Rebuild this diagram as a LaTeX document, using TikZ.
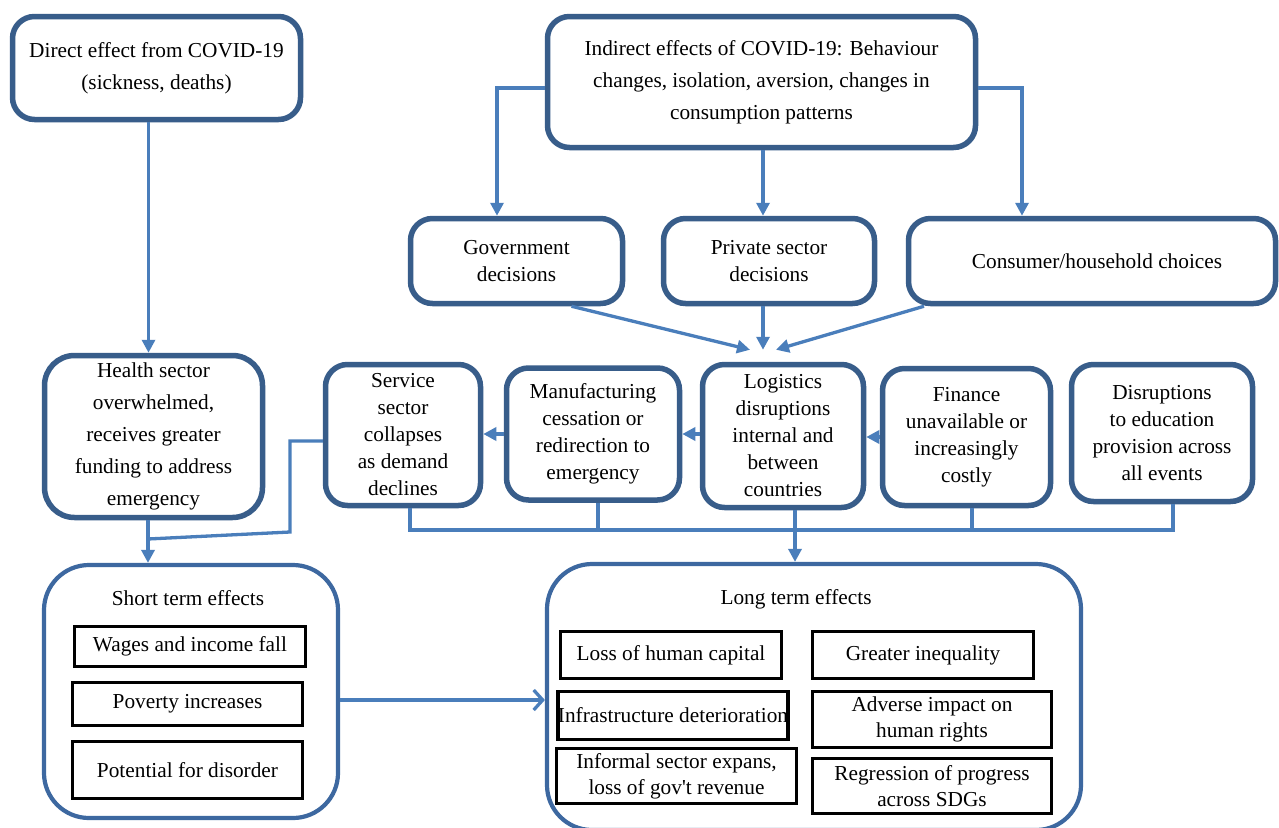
\documentclass[tikz,border=0pt]{standalone}
\usepackage{fontspec}
\setmainfont{Liberation Serif}
\newfontfamily\straightfont{Liberation Serif}[Ligatures=TeXOff]
\usetikzlibrary{arrows.meta,calc}
\definecolor{boxblue}{HTML}{385D8A}
\definecolor{outblue}{HTML}{3D68A0}
\definecolor{linkblue}{HTML}{4A7EBB}
\tikzset{
  bluebox/.style={draw=boxblue, line width=5.5pt, rounded corners=22pt, fill=white, align=center, inner sep=0pt, font=\fontsize{21.3}{27}\selectfont},
  wide/.style={font=\fontsize{21.3}{32}\selectfont},
  outbox/.style={draw=outblue, line width=4.2pt, rounded corners=45pt, inner sep=0pt},
  itembox/.style={draw=black, line width=3.5pt, align=center, inner sep=0pt, fill=white, font=\fontsize{21.3}{26}\selectfont},
  titletext/.style={inner sep=0pt, font=\fontsize{21.3}{26}\selectfont},
  conn/.style={draw=linkblue, line width=3.3pt},
  arr/.style={conn, -{Triangle[length=13pt,width=13pt]}},
  openarr/.style={conn, -{Straight Barb[length=9pt,width=20pt,line width=3.3pt]}}
}
\begin{document}
\begin{tikzpicture}[x=1pt,y=-1pt]
\useasboundingbox[fill=white] (0,0) rectangle (1279,827);
% top boxes
\node[bluebox, wide, minimum width=288pt, minimum height=103pt] (direct) at (156.5,68) {Direct effect from COVID-19\\(sickness, deaths)};
\node[bluebox, wide, minimum width=428pt, minimum height=131pt] (indirect) at (761.5,82) {Indirect effects of COVID-19: Behaviour\\changes, isolation, aversion, changes in\\consumption patterns};
\node[bluebox, minimum width=212pt, minimum height=85pt] (gov) at (516.5,261) {Government\\decisions};
\node[bluebox, minimum width=211pt, minimum height=85pt] (priv) at (769,261) {Private sector\\decisions};
\node[bluebox, minimum width=367pt, minimum height=85pt] (cons) at (1092,261) {\hspace*{10pt}Consumer/household choices};
% middle row
\node[bluebox, wide, rounded corners=30pt, minimum width=218pt, minimum height=162pt] (health) at (153.5,436.5) {Health sector\\overwhelmed,\\receives greater\\funding to address\\emergency};
\node[bluebox, minimum width=155pt, minimum height=141pt] (serv) at (403,435) {Service\\sector\\collapses\\as demand\\declines};
\node[bluebox, minimum width=173pt, minimum height=132pt] (manu) at (593,434) {Manufacturing\\cessation or\\redirection to\\emergency};
\node[bluebox, minimum width=161pt, minimum height=143pt] (logi) at (783,436) {Logistics\\disruptions\\internal and\\between\\countries};
\node[bluebox, minimum width=168pt, minimum height=137pt] (fin) at (966.5,437) {Finance\\unavailable or\\increasingly\\costly};
\node[bluebox, minimum width=181pt, minimum height=137pt] (edu) at (1162,433) {Disruptions\\to education\\provision across\\all events};
% bottom containers
\node[outbox, minimum width=294pt, minimum height=253pt] (short) at (191,691.5) {};
\node[outbox, minimum width=534pt, minimum height=266pt] (long) at (814,697) {};
\node[titletext] (shortt) at (188,598) {Short term effects};
\node[titletext] (longt) at (796,599) {Long term effects};
\node[itembox, minimum width=231pt, minimum height=40pt] (wages) at (190,646.5) {Wages and income fall};
\node[itembox, minimum width=230pt, minimum height=43pt] (pov) at (187.5,704) {Poverty increases};
\node[itembox, minimum width=230pt, minimum height=57pt] (pot) at (187.5,770) {Potential for disorder};
\node[itembox, minimum width=221pt, minimum height=47pt] (loss) at (671,655) {Loss of human capital};
\node[itembox, minimum width=229pt, minimum height=48pt] (infra) at (673,715.5) {Infrastructure deterioration};
\node[itembox, minimum width=240pt, minimum height=55pt] (inf) at (676.5,776) {Informal sector expans,\\loss of gov{\straightfont '}t revenue};
\node[itembox, minimum width=221pt, minimum height=47pt] (ineq) at (923,655) {Greater inequality};
\node[itembox, minimum width=239pt, minimum height=56pt] (adv) at (932,719.5) {Adverse impact on\\human rights};
\node[itembox, minimum width=239pt, minimum height=55pt] (reg) at (932,786) {Regression of progress\\across SDGs};
% connectors
\draw[arr] ([xshift=-8pt]direct.south) -- ([xshift=-5pt]health.north);
\draw[arr] ([yshift=-6pt]indirect.west) -| ([xshift=-19.5pt]gov.north);
\draw[arr] ([xshift=1.5pt]indirect.south) -- ([xshift=-6pt]priv.north);
\draw[arr] ([yshift=-6pt]indirect.east) -| ([xshift=-70pt]cons.north);
\draw[arr] ([xshift=55pt]gov.south) -- ([xshift=-33pt,yshift=12pt]logi.north);
\draw[arr] ([xshift=-6pt]priv.south) -- ([xshift=-20pt,yshift=12pt]logi.north);
\draw[arr] ([xshift=-168pt]cons.south) -- ([xshift=-7pt,yshift=12pt]logi.north);
\draw[arr] (logi.west |- manu.east) -- (manu.east);
\draw[arr] (manu.west) -- (manu.west -| serv.east);
\draw[arr] (fin.west) -- (fin.west -| logi.east);
\coordinate (j1) at (290,532);
\coordinate (j2) at (148,539);
\draw[conn] ([yshift=-6pt]serv.west) -| (j1) -- (j2);
\draw[arr] ([xshift=-5.5pt]health.south) -- ([xshift=-43pt]short.north);
\coordinate (bus) at (0,530);
\coordinate (sT) at ([xshift=7pt]serv.south);
\coordinate (mT) at ([xshift=5pt]manu.south);
\coordinate (lT) at ([xshift=12pt]logi.south);
\coordinate (fT) at ([xshift=5.5pt]fin.south);
\coordinate (eT) at ([xshift=11pt]edu.south);
\draw[conn] (sT) -- (sT |- bus) -- (eT |- bus) -- (eT);
\draw[conn] (mT) -- (mT |- bus);
\draw[conn] (fT) -- (fT |- bus);
\draw[arr] (lT) -- (lT |- long.north);
\coordinate (sE) at ([yshift=-8.5pt]short.east);
\draw[openarr] (sE) -- (sE -| long.west);
\end{tikzpicture}
\end{document}
